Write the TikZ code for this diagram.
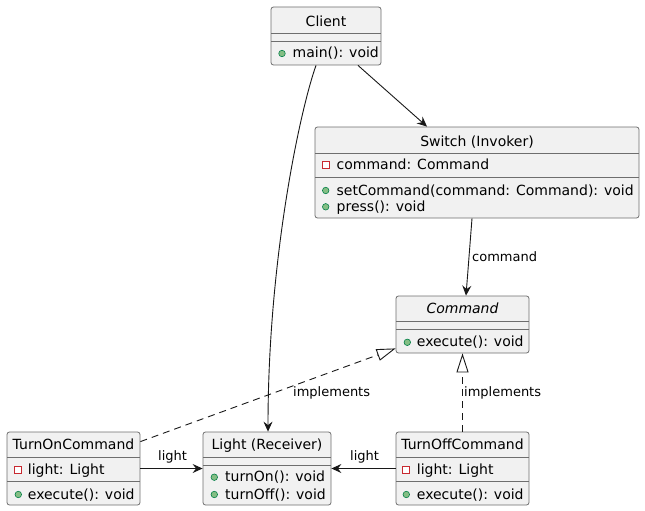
\documentclass[tikz,border=0pt]{standalone}
\usepackage{fontspec}
\setmainfont{DejaVu Sans}
\usetikzlibrary{arrows.meta}

\definecolor{boxfill}{HTML}{F1F1F1}
\definecolor{boxline}{HTML}{6E6E6E}
\definecolor{linkline}{HTML}{181818}
\definecolor{pubfill}{HTML}{84BE84}
\definecolor{publine}{HTML}{038048}
\definecolor{privline}{HTML}{C82930}

\tikzset{
  classbox/.style={draw=boxline, fill=boxfill, line width=0.8pt, rounded corners=2.5pt, inner sep=0pt},
  divider/.style={draw=boxline, line width=0.8pt},
  title/.style={anchor=base, inner sep=0pt, font=\fontsize{14pt}{16pt}\selectfont},
  member/.style={anchor=base west, inner sep=0pt, font=\fontsize{14pt}{16pt}\selectfont},
  linklabel/.style={anchor=base west, inner sep=0pt, font=\fontsize{13pt}{15pt}\selectfont},
  pub/.style={circle, draw=publine, fill=pubfill, minimum size=6.5pt, inner sep=0pt, line width=0.6pt},
  priv/.style={rectangle, draw=privline, fill=white, minimum size=7pt, inner sep=0pt, line width=0.8pt},
  assoc/.style={draw=linkline, line width=0.9pt, -{Stealth[length=10pt, width=9pt, inset=3.5pt]}},
  realize/.style={draw=linkline, line width=0.9pt, dash pattern=on 7pt off 5pt,
    -{Triangle[open, length=19pt, width=12pt, fill=white]}}
}

\begin{document}
\begin{tikzpicture}[x=1pt, y=-1pt]
  \useasboundingbox (0,0) rectangle (645,511);

  % ---- Client ----
  \node[classbox, minimum width=110pt, minimum height=58pt] (client) at (326,36) {};
  \draw[divider] (271,33) -- (381,33);
  \draw[divider] (271,41.5) -- (381,41.5);
  \node[title] (clientT) at (326,26.5) {Client};
  \node[pub] (clientM1i) at (282,53.5) {};
  \node[member] (clientM1) at (292.5,57.5) {main(): void};

  % ---- Switch (Invoker) ----
  \node[classbox, minimum width=324pt, minimum height=91pt] (switch) at (477,172.5) {};
  \draw[divider] (315,153) -- (639,153);
  \draw[divider] (315,177) -- (639,177);
  \node[title] (switchT) at (477,146) {Switch (Invoker)};
  \node[priv] (switchF1i) at (326,165) {};
  \node[member] (switchF1) at (336.5,169.3) {command: Command};
  \node[pub] (switchM1i) at (325.7,190.5) {};
  \node[member] (switchM1) at (336.5,195) {setCommand(command: Command): void};
  \node[pub] (switchM2i) at (325.7,206.8) {};
  \node[member] (switchM2) at (336.5,211.3) {press(): void};

  % ---- Command (abstract) ----
  \node[classbox, minimum width=133pt, minimum height=57pt] (command) at (462.5,324.5) {};
  \draw[divider] (396,321.7) -- (529,321.7);
  \draw[divider] (396,329.3) -- (529,329.3);
  \node[title, font=\fontsize{14pt}{16pt}\selectfont\itshape] (commandT) at (462.5,313.5) {Command};
  \node[pub] (commandM1i) at (407.3,342.3) {};
  \node[member] (commandM1) at (416.7,346.7) {execute(): void};

  % ---- TurnOnCommand ----
  \node[classbox, minimum width=133pt, minimum height=73pt] (turnon) at (73.5,468.5) {};
  \draw[divider] (7,457) -- (140,457);
  \draw[divider] (7,481) -- (140,481);
  \node[title] (turnonT) at (73.5,449.3) {TurnOnCommand};
  \node[priv] (turnonF1i) at (18.3,469.5) {};
  \node[member] (turnonF1) at (27.7,474) {light: Light};
  \node[pub] (turnonM1i) at (18.3,494.5) {};
  \node[member] (turnonM1) at (27.7,499) {execute(): void};

  % ---- Light (Receiver) ----
  \node[classbox, minimum width=128pt, minimum height=73pt] (light) at (267,468.5) {};
  \draw[divider] (203,457) -- (331,457);
  \draw[divider] (203,465) -- (331,465);
  \node[title] (lightT) at (267,449.3) {Light (Receiver)};
  \node[pub] (lightM1i) at (214.3,477.2) {};
  \node[member] (lightM1) at (225,481.7) {turnOn(): void};
  \node[pub] (lightM2i) at (214.3,494.5) {};
  \node[member] (lightM2) at (225,499) {turnOff(): void};

  % ---- TurnOffCommand ----
  \node[classbox, minimum width=133pt, minimum height=73pt] (turnoff) at (462.5,468.5) {};
  \draw[divider] (396,457) -- (529,457);
  \draw[divider] (396,481) -- (529,481);
  \node[title] (turnoffT) at (462.5,449.3) {TurnOffCommand};
  \node[priv] (turnoffF1i) at (406.3,469.5) {};
  \node[member] (turnoffF1) at (416.7,474) {light: Light};
  \node[pub] (turnoffM1i) at (406.3,494.5) {};
  \node[member] (turnoffM1) at (416.7,499) {execute(): void};

  % ---- Connectors ----
  \draw[assoc] ([xshift=-10pt]client.south) .. controls +(-16,45) and +(0,-172) .. ([xshift=1pt]light.north);
  \draw[assoc] ([xshift=32pt]client.south) -- ([xshift=-50pt]switch.north);
  \draw[assoc] ([xshift=-5pt]switch.south) -- ([xshift=3.5pt]command.north);
  \draw[realize] ([yshift=-10pt]turnon.north east) -- ([yshift=5pt]command.south west);
  \draw[realize] (turnoff.north) -- (command.south);
  \draw[assoc] (turnon.east) -- (light.west);
  \draw[assoc] (turnoff.west) -- (light.east);

  % ---- Connector labels ----
  \node[linklabel] (lblCommand) at (472,261.7) {command};
  \node[linklabel] (lblImplOn) at (293,396.7) {implements};
  \node[linklabel] (lblImplOff) at (464,396.7) {implements};
  \node[linklabel] (lblLightOn) at (158,460.5) {light};
  \node[linklabel] (lblLightOff) at (350,460.5) {light};
\end{tikzpicture}
\end{document}
